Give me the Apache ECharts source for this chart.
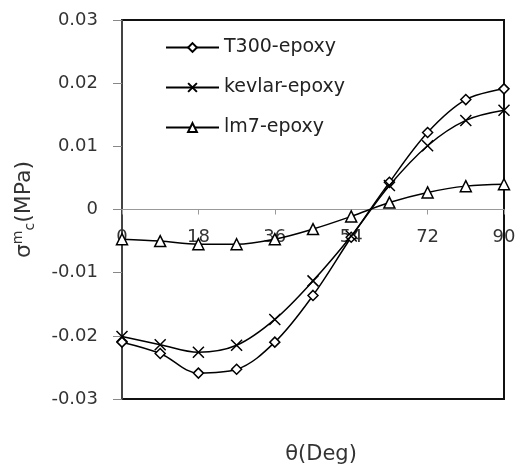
<!DOCTYPE html>
<html><head><meta charset="utf-8">
<script src="https://cdn.jsdelivr.net/npm/echarts@6/dist/echarts.min.js"></script>
<style>html,body{margin:0;padding:0;background:#fff}#c{width:520px;height:468px}</style>
</head><body><div id="c"></div>
<script>
var theta = [0, 9, 18, 27, 36, 45, 54, 63, 72, 81, 90];
var seriesNames = ['T300-epoxy', 'kevlar-epoxy', 'lm7-epoxy'];
var t300 = [-0.0210, -0.0228, -0.0259, -0.0253, -0.0210, -0.0136, -0.0044, 0.0043, 0.0122, 0.0174, 0.0191];
var kevlar = [-0.0201, -0.0214, -0.0226, -0.0215, -0.0174, -0.0113, -0.0042, 0.0038, 0.0101, 0.0141, 0.0157];
var lm7 = [-0.0047, -0.0050, -0.0055, -0.0055, -0.0047, -0.0031, -0.0011, 0.0011, 0.0027, 0.0037, 0.0040];
var yTicks = [-0.03, -0.02, -0.01, 0, 0.01, 0.02, 0.03];
var xTicks = [0, 18, 36, 54, 72, 90];

var FONT = 'DejaVu Sans';
var GRID_TOP = 20, GRID_BOTTOM = 69, H = 468;
var plotH = H - GRID_TOP - GRID_BOTTOM;
var yMin = -0.03, yMax = 0.03;
// distance from bottom of plot up to the zero line (axis sits on zero)
var zeroOffset = -plotH * (0 - yMin) / (yMax - yMin);

function pairs(ys){ return theta.map(function(t,i){ return [t, ys[i]]; }); }
var symbols = ['diamond', 'path://M0 0L10 10M10 0L0 10', 'triangle'];
var sizes = [10, 11, 11];
var datas = [t300, kevlar, lm7];

var chart = echarts.init(document.getElementById('c'));
chart.setOption({
  animation: false,
  backgroundColor: '#fff',
  textStyle: { fontFamily: FONT },
  grid: { left: 122, top: GRID_TOP, right: 16, bottom: GRID_BOTTOM, show: true, borderColor: '#111', borderWidth: 2, containLabel: false },
  legend: {
    data: seriesNames,
    orient: 'vertical', left: 160, top: 33,
    itemWidth: 53, itemHeight: 11, itemGap: 21,
    textStyle: { fontFamily: FONT, fontSize: 19, color: '#222' }
  },
  xAxis: {
    type: 'value', min: 0, max: 90, interval: 18,
    offset: zeroOffset,
    axisLine: { onZero: false, lineStyle: { color: '#999', width: 1 } },
    axisTick: { show: true, inside: false, length: 5, lineStyle: { color: '#999' } },
    axisLabel: { fontFamily: FONT, fontSize: 18, color: '#333', margin: 19,
      formatter: function(v){ return xTicks.indexOf(v) >= 0 ? String(v) : ''; } },
    splitLine: { show: false }
  },
  yAxis: {
    type: 'value', min: yMin, max: yMax, interval: 0.01,
    axisLine: { show: true, lineStyle: { color: '#555', width: 1.5 } },
    axisTick: { show: true, inside: false, length: 9, lineStyle: { color: '#888' } },
    axisLabel: { fontFamily: FONT, fontSize: 18, color: '#333', margin: 24,
      formatter: function(v){ var r = Math.round(v*100)/100; return r === 0 ? '0' : r.toFixed(2); } },
    splitLine: { show: false },
    name: '{s|σ}{sup|m}{sub|c}{s|(MPa)}',
    nameLocation: 'middle', nameRotate: 90, nameGap: 84,
    nameTextStyle: {
      rich: {
        s: { fontFamily: FONT, fontSize: 22, color: '#333' },
        sup: { fontFamily: FONT, fontSize: 14, color: '#333', padding: [0, 0, 13, 0] },
        sub: { fontFamily: FONT, fontSize: 14, color: '#333', padding: [11, 0, 0, 0] }
      }
    }
  },
  graphic: [{
    type: 'text', x: 321, y: 455,
    style: { text: 'θ(Deg)', fontFamily: FONT, fontSize: 21, fill: '#333', align: 'center', verticalAlign: 'middle' }
  }],
  series: datas.map(function(d, i){
    return {
      name: seriesNames[i], type: 'line', smooth: 0.35,
      data: pairs(d),
      symbol: symbols[i], symbolSize: sizes[i], showSymbol: true,
      lineStyle: { color: '#000', width: 1.5 },
      itemStyle: { color: '#fff', borderColor: '#000', borderWidth: 1.5 },
      z: 3 + i
    };
  })
});
</script></body></html>
